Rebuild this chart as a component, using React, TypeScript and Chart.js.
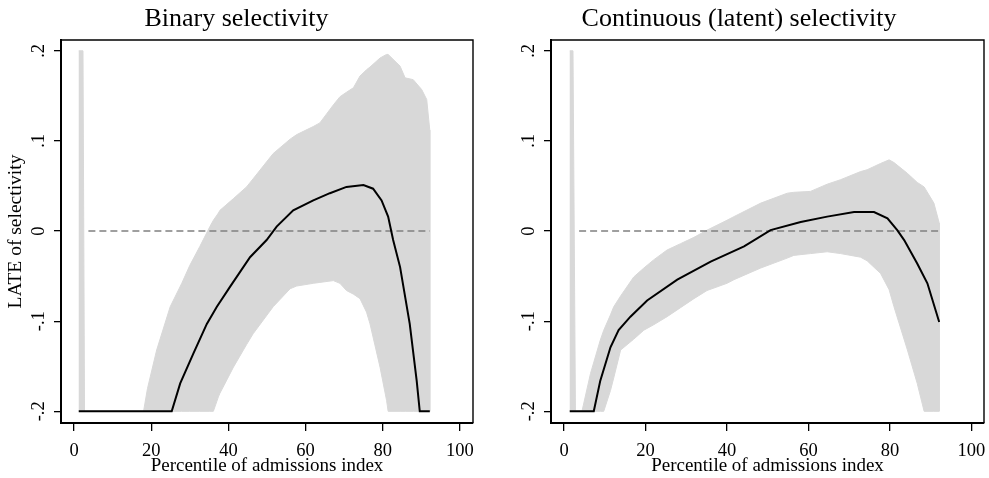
import React, { useEffect, useRef } from "react";
import { Chart, registerables } from "chart.js";
Chart.register(...registerables);

const FONT = "'Liberation Serif', 'DejaVu Serif', serif";
const BAND = "#d8d8d8";

const xTicks = [0, 20, 40, 60, 80, 100];
const yTicks = [-0.2, -0.1, 0, 0.1, 0.2];
const yTickLabels = ["-.2", "-.1", "0", ".1", ".2"];
const zeroLineX = [3.7, 92.2];

// Binary selectivity
const binBandX = [1.2, 2.3, 2.7, 18, 19, 21.4, 24.9, 27.9, 30, 32.6, 35.2, 36.1, 37.4, 37.8, 41.3, 44.7, 46.4, 51.6, 56, 57.7, 62, 63.7, 67.2, 68.9, 70.6, 72.4, 74.1, 75.8, 76.7, 79.3, 81, 81.4, 84.5, 85.8, 87.9, 90.1, 91.4, 92.2];
const binBandHi = [0.2, 0.2, -0.2, -0.2, -0.175, -0.132, -0.084, -0.058, -0.038, -0.017, 0.005, 0.012, 0.02, 0.023, 0.036, 0.049, 0.058, 0.086, 0.102, 0.107, 0.116, 0.12, 0.14, 0.149, 0.154, 0.159, 0.172, 0.179, 0.182, 0.192, 0.196, 0.196, 0.183, 0.17, 0.168, 0.157, 0.146, 0.112];
const binBandLo = [-0.2, -0.2, -0.2, -0.2, -0.2, -0.2, -0.2, -0.2, -0.2, -0.2, -0.2, -0.2, -0.184, -0.18, -0.151, -0.126, -0.114, -0.084, -0.064, -0.061, -0.058, -0.057, -0.055, -0.058, -0.066, -0.07, -0.075, -0.09, -0.103, -0.151, -0.188, -0.2, -0.2, -0.2, -0.2, -0.2, -0.2, -0.2];
const binLineX = [1.2, 25.3, 27.5, 30.9, 34.4, 37, 40.4, 45.6, 49.9, 52.5, 56.8, 62, 66.3, 70.6, 75, 77.5, 79.7, 81.4, 82.7, 84.5, 87, 88.8, 89.6, 92.2];
const binLineY = [-0.2, -0.2, -0.169, -0.136, -0.103, -0.084, -0.062, -0.029, -0.01, 0.005, 0.023, 0.034, 0.042, 0.049, 0.051, 0.047, 0.034, 0.016, -0.01, -0.04, -0.103, -0.166, -0.2, -0.2];

// Continuous (latent) selectivity
const conBandX = [1.4, 2.2, 2.8, 4.4, 6.5, 8.9, 9.75, 11.4, 12.2, 13.9, 17.1, 19.6, 22, 25.3, 28.6, 31.9, 35.1, 40, 41.7, 48.3, 54.8, 56.4, 60.5, 64.6, 67.9, 72.8, 74.4, 77.7, 79.8, 81, 84.3, 86.7, 88.4, 90.8, 92.1];
const conBandHi = [0.2, 0.2, -0.2, -0.2, -0.158, -0.121, -0.11, -0.093, -0.084, -0.072, -0.051, -0.041, -0.032, -0.021, -0.014, -0.007, 0.001, 0.012, 0.016, 0.031, 0.042, 0.043, 0.044, 0.052, 0.057, 0.066, 0.068, 0.075, 0.079, 0.076, 0.064, 0.054, 0.049, 0.031, 0.009];
const conBandLo = [-0.2, -0.2, -0.2, -0.2, -0.2, -0.2, -0.2, -0.177, -0.163, -0.132, -0.12, -0.11, -0.104, -0.095, -0.085, -0.075, -0.066, -0.058, -0.054, -0.041, -0.03, -0.027, -0.025, -0.023, -0.025, -0.029, -0.033, -0.047, -0.065, -0.084, -0.132, -0.169, -0.2, -0.2, -0.2];
const conLineX = [1.4, 7.3, 8.9, 11.4, 13.4, 16.3, 20.4, 27.8, 36, 44.2, 50.7, 58.1, 64.6, 71.2, 76.1, 79.4, 81.8, 83.5, 86.7, 89.2, 92.1];
const conLineY = [-0.2, -0.2, -0.166, -0.129, -0.11, -0.095, -0.077, -0.054, -0.034, -0.017, 0.001, 0.01, 0.016, 0.021, 0.021, 0.014, 0.001, -0.01, -0.036, -0.058, -0.101];

const framePlugin = {
  id: "frame",
  afterDraw(chart: any) {
    const { ctx, chartArea } = chart;
    const { left, right, top, bottom } = chartArea;
    ctx.save();
    ctx.strokeStyle = "#000";
    ctx.lineWidth = 1.4;
    ctx.beginPath();
    ctx.moveTo(left, top);
    ctx.lineTo(right, top);
    ctx.lineTo(right, bottom);
    ctx.stroke();
    const ys = chart.scales.y;
    ctx.font = `18.5px ${FONT}`;
    ctx.fillStyle = "#000";
    ctx.textAlign = "center";
    ctx.textBaseline = "alphabetic";
    yTicks.forEach((v, i) => {
      const y = ys.getPixelForValue(v);
      ctx.save();
      ctx.translate(left - 17, y);
      ctx.rotate(-Math.PI / 2);
      ctx.fillText(yTickLabels[i], 0, 0);
      ctx.restore();
    });
    ctx.restore();
  },
};

type PanelProps = {
  width: number;
  title: string;
  bandX: number[];
  bandHi: number[];
  bandLo: number[];
  lineX: number[];
  lineY: number[];
  xMin: number;
  xMax: number;
  yAxisWidth: number;
  padRight: number;
  yTitle?: string;
};

function Panel(p: PanelProps) {
  const ref = useRef<HTMLCanvasElement>(null);
  useEffect(() => {
    const upper = p.bandX.map((x, i) => ({ x, y: p.bandHi[i] }));
    const lower = p.bandX.map((x, i) => ({ x, y: p.bandLo[i] })).reverse();
    const band = [...upper, ...lower];
    const line = p.lineX.map((x, i) => ({ x, y: p.lineY[i] }));
    const zero = zeroLineX.map((x) => ({ x, y: 0 }));
    const chart = new Chart(ref.current as HTMLCanvasElement, {
      type: "line",
      data: {
        datasets: [
          { data: line, borderColor: "#000", borderWidth: 2, pointRadius: 0, fill: false, tension: 0 },
          { data: zero, borderColor: "#808080", borderWidth: 1.6, borderDash: [7, 4], pointRadius: 0, fill: false },
          { data: band, borderColor: BAND, backgroundColor: BAND, borderWidth: 1, pointRadius: 0, fill: "shape" as any },
        ],
      },
      options: {
        animation: false,
        responsive: false,
        events: [],
        layout: { padding: { left: 0, right: p.padRight, top: 0, bottom: 0 } },
        plugins: {
          legend: { display: false },
          tooltip: { enabled: false },
          title: {
            display: true,
            text: p.title,
            color: "#000",
            font: { family: FONT, size: 26, weight: "normal" as any },
            padding: { top: 3.9, bottom: 4.9 },
          },
        },
        scales: {
          x: {
            type: "linear",
            min: p.xMin,
            max: p.xMax,
            afterBuildTicks: (s: any) => {
              s.ticks = xTicks.map((v) => ({ value: v }));
            },
            afterFit: (s: any) => {
              s.height = 55;
              s.paddingLeft = 0;
              s.paddingRight = 0;
            },
            grid: { drawOnChartArea: false, drawTicks: true, tickLength: 8, color: "#000", lineWidth: 1.3 },
            border: { display: true, color: "#000", width: 2 },
            ticks: { font: { family: FONT, size: 18.5 }, color: "#000", padding: 9, maxRotation: 0, autoSkip: false },
            title: {
              display: true,
              text: "Percentile of admissions index",
              color: "#000",
              font: { family: FONT, size: 19 },
              padding: { top: 0, bottom: 0.5 },
            },
          },
          y: {
            type: "linear",
            min: -0.213,
            max: 0.212,
            afterBuildTicks: (s: any) => {
              s.ticks = yTicks.map((v) => ({ value: v }));
            },
            afterFit: (s: any) => {
              s.width = p.yAxisWidth;
              s.paddingTop = 0;
              s.paddingBottom = 0;
            },
            grid: { drawOnChartArea: false, drawTicks: true, tickLength: 7, color: "#000", lineWidth: 1.3 },
            border: { display: true, color: "#000", width: 2 },
            ticks: { display: false },
            title: {
              display: !!p.yTitle,
              text: p.yTitle || "",
              color: "#000",
              font: { family: FONT, size: 19.5 },
              padding: { top: 3.7, bottom: 0 },
            },
          },
        },
      },
      plugins: [framePlugin],
    });
    return () => chart.destroy();
  }, []);
  return <canvas ref={ref} width={p.width} height={478} style={{ display: "block", width: p.width, height: 478 }} />;
}

export default function App() {
  return (
    <div style={{ position: "absolute", left: 0, top: 0, width: 989, height: 478, display: "flex", background: "#fff" }}>
      <Panel
        width={494}
        title="Binary selectivity"
        bandX={binBandX}
        bandHi={binBandHi}
        bandLo={binBandLo}
        lineX={binLineX}
        lineY={binLineY}
        xMin={-3.4}
        xMax={103.4}
        yAxisWidth={61}
        padRight={21}
        yTitle="LATE of selectivity"
      />
      <Panel
        width={495}
        title="Continuous (latent) selectivity"
        bandX={conBandX}
        bandHi={conBandHi}
        bandLo={conBandLo}
        lineX={conLineX}
        lineY={conLineY}
        xMin={-3.2}
        xMax={103.1}
        yAxisWidth={57}
        padRight={5}
      />
    </div>
  );
}
